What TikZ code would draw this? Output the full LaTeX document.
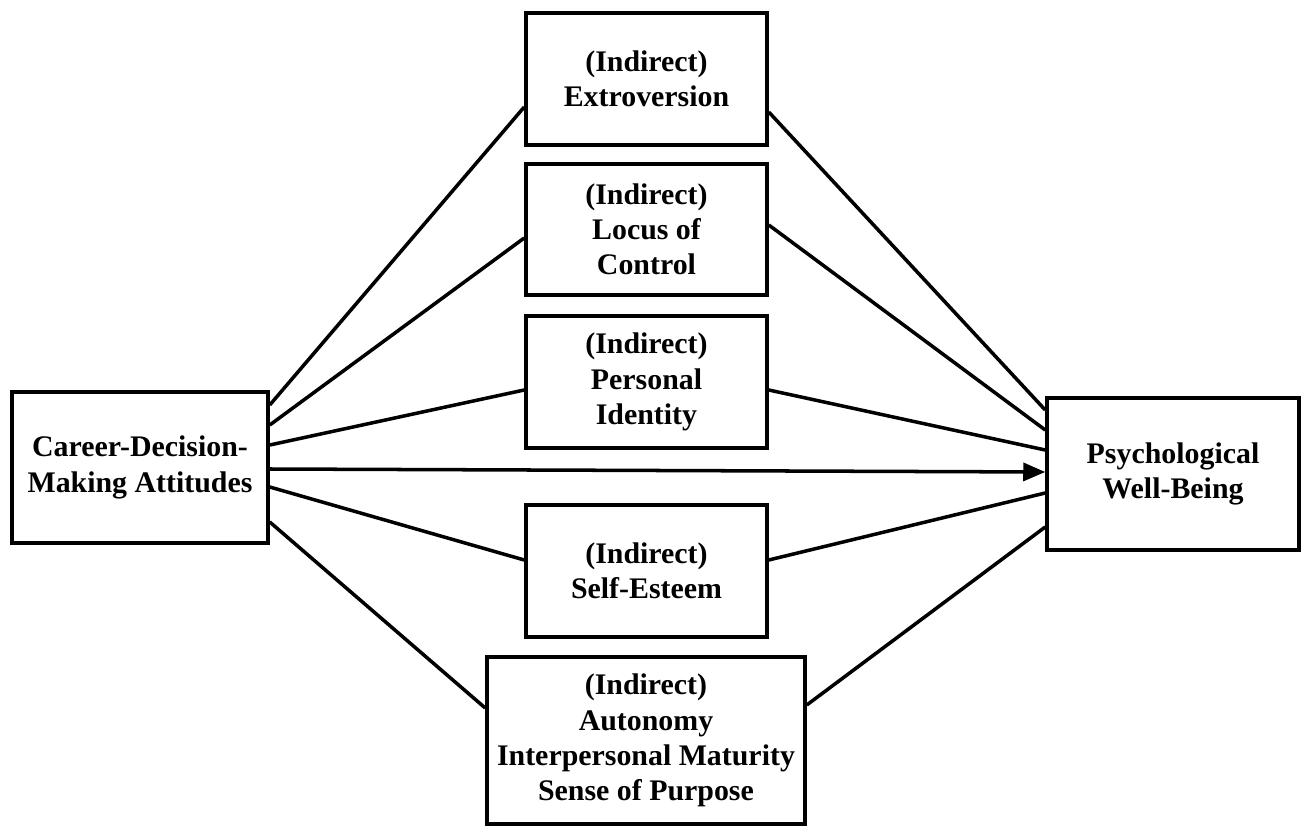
\documentclass[tikz,border=0pt]{standalone}
\usepackage{fontspec}
\setmainfont{Liberation Serif}
\usetikzlibrary{arrows.meta}

\begin{document}
\begin{tikzpicture}[line width=2pt,
  box/.style={draw, align=center, inner sep=0pt,
    font=\fontsize{17}{20}\selectfont\bfseries},
  mid/.style={box, minimum width=4.82cm, minimum height=2.64cm}]
  \useasboundingbox (0,0) rectangle (26.08,-16.52);
  \node[box, minimum width=5.12cm, minimum height=3.02cm] (cdma) at (2.8,-9.35)
    {Career-Decision-\\Making Attitudes};
  \node[box, minimum width=5.04cm, minimum height=3.04cm] (pwb) at (23.46,-9.48)
    {Psychological\\Well-Being};
  \node[mid] (ext) at (12.93,-1.58) {(Indirect)\\Extroversion};
  \node[mid, minimum height=2.62cm] (loc) at (12.93,-4.59) {(Indirect)\\Locus of\\Control};
  \node[mid] (pid) at (12.93,-7.64) {(Indirect)\\Personal\\Identity};
  \node[mid] (ses) at (12.93,-11.42) {(Indirect)\\Self-Esteem};
  \node[box, minimum width=6.36cm, minimum height=3.34cm] (aut) at (12.92,-14.81)
    {(Indirect)\\Autonomy\\Interpersonal Maturity\\Sense of Purpose};
  \draw ([yshift=1.25cm]cdma.east) -- ([yshift=-0.56cm]ext.west)
    ([yshift=-0.66cm]ext.east) -- ([yshift=1.28cm]pwb.west);
  \draw ([yshift=0.85cm]cdma.east) -- ([yshift=-0.17cm]loc.west)
    ([yshift=0.09cm]loc.east) -- ([yshift=0.88cm]pwb.west);
  \draw ([yshift=0.45cm]cdma.east) -- ([yshift=-0.16cm]pid.west)
    ([yshift=-0.16cm]pid.east) -- ([yshift=0.48cm]pwb.west);
  \draw ([yshift=-0.39cm]cdma.east) -- ([yshift=0.22cm]ses.west)
    ([yshift=0.22cm]ses.east) -- ([yshift=-0.38cm]pwb.west);
  \draw ([yshift=-1.09cm]cdma.east) -- ([yshift=0.65cm]aut.west)
    ([yshift=0.71cm]aut.east) -- ([yshift=-1.06cm]pwb.west);
  \path ([yshift=-0.03cm]cdma.east) edge [-{Triangle[length=0.44cm,width=0.36cm]}]
    ([yshift=0.04cm]pwb.west);
\end{tikzpicture}
\end{document}
